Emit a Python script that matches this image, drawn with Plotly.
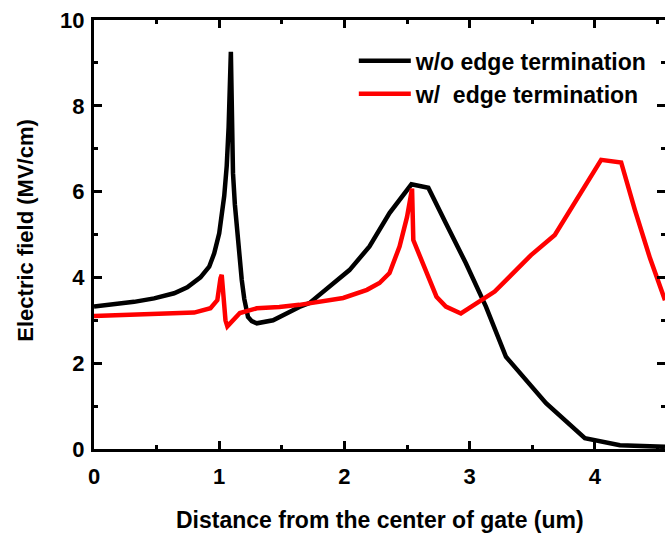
import plotly.graph_objects as go

# Electric field profiles along the channel (x in um, E in MV/cm)
x_wo = [0.0, 0.16, 0.32, 0.48, 0.64, 0.745, 0.85, 0.92, 0.96, 1.0, 1.02, 1.04, 1.06,
        1.075, 1.093, 1.10, 1.11, 1.125, 1.14, 1.16, 1.18, 1.2, 1.23, 1.26, 1.3, 1.43,
        1.54, 1.64, 1.72, 2.04, 2.2, 2.36, 2.535, 2.67, 2.81, 2.97, 3.13, 3.29, 3.61,
        3.92, 4.2, 4.56]
e_wo = [3.32, 3.37, 3.43, 3.51, 3.63, 3.77, 4.0, 4.25, 4.56, 5.03, 5.49, 5.9, 6.6,
        7.5, 9.26, 7.6, 6.43, 5.7, 5.18, 4.4, 3.94, 3.5, 3.08, 2.98, 2.93, 3.0,
        3.17, 3.31, 3.4, 4.17, 4.72, 5.5, 6.17, 6.09, 5.26, 4.33, 3.32, 2.15, 1.07,
        0.25, 0.09, 0.05]

x_w = [0.0, 0.53, 0.8, 0.93, 0.985, 1.01, 1.02, 1.05, 1.065, 1.165, 1.3, 1.48, 1.64,
       1.99, 2.18, 2.28, 2.36, 2.44, 2.5, 2.54, 2.55, 2.735, 2.81, 2.93, 3.08, 3.2,
       3.49, 3.68, 4.05, 4.21, 4.32, 4.44, 4.56]
e_w = [3.1, 3.15, 3.18, 3.28, 3.47, 3.98, 4.06, 3.0, 2.86, 3.17, 3.28, 3.31, 3.36,
       3.52, 3.71, 3.87, 4.1, 4.72, 5.41, 6.07, 4.87, 3.55, 3.32, 3.16, 3.45, 3.67,
       4.52, 4.99, 6.74, 6.68, 5.57, 4.45, 3.47]

names = ["w/o edge termination", "w/  edge termination"]
colors = ["black", "red"]

x_ticks = [0, 1, 2, 3, 4]
y_ticks = [0, 2, 4, 6, 8, 10]

FONT = "Liberation Sans, Arial, sans-serif"


def bold(s):
    return "<b>" + str(s) + "</b>"


fig = go.Figure()
for xs, ys, nm, c in zip([x_wo, x_w], [e_wo, e_w], names, colors):
    fig.add_trace(go.Scatter(x=xs, y=ys, mode="lines", name=bold(nm),
                             line=dict(color=c, width=4.5)))

# helper trace so the right-hand tick axis is drawn
fig.add_trace(go.Scatter(x=[None], y=[None], yaxis="y2", showlegend=False,
                         hoverinfo="skip"))

tickfont = dict(family=FONT, size=22, color="black")
tick_common = dict(showgrid=False, zeroline=False, ticks="inside", ticklen=8,
                   tickwidth=3, tickcolor="black")

fig.update_layout(
    width=665, height=535,
    margin=dict(l=94, r=0, t=20, b=86),
    plot_bgcolor="white", paper_bgcolor="white",
    showlegend=True,
    legend=dict(x=0.455, y=0.955, xanchor="left", yanchor="top",
                bgcolor="rgba(0,0,0,0)", tracegroupgap=0,
                font=dict(family=FONT, size=23, color="black"),
                itemwidth=52),
    xaxis=dict(range=[0, 4.56], tickvals=x_ticks, ticktext=[bold(v) for v in x_ticks],
               showline=True, linecolor="black", linewidth=3, mirror="ticks",
               minor=dict(dtick=0.5, tick0=0, ticks="inside", ticklen=4, tickwidth=3,
                          tickcolor="black", showgrid=False),
               ticklabelstandoff=6, tickfont=tickfont, **tick_common),
    yaxis=dict(range=[0, 10], tickvals=y_ticks, ticktext=[bold(v) for v in y_ticks],
               showline=True, linecolor="black", linewidth=3,
               minor=dict(dtick=1, tick0=0, ticks="inside", ticklen=4, tickwidth=3,
                          tickcolor="black", showgrid=False),
               ticklabelstandoff=2, tickfont=tickfont, **tick_common),
    yaxis2=dict(range=[0, 10], tickvals=y_ticks, overlaying="y", side="right",
                showline=False, showticklabels=False,
                minor=dict(dtick=1, tick0=0, ticks="inside", ticklen=4, tickwidth=3,
                           tickcolor="black", showgrid=False),
                **tick_common),
    annotations=[
        dict(text=bold("Distance from the center of gate (um)"), xref="paper",
             yref="paper", x=0.5, y=-0.165, xanchor="center", yanchor="middle",
             showarrow=False, font=dict(family=FONT, size=23, color="black")),
        dict(text=bold("Electric field (MV/cm)"), xref="paper", yref="paper",
             x=-0.12, y=0.51, xanchor="center", yanchor="middle", showarrow=False,
             textangle=-90, font=dict(family=FONT, size=22, color="black")),
    ],
)

fig.write_html("out.html")
